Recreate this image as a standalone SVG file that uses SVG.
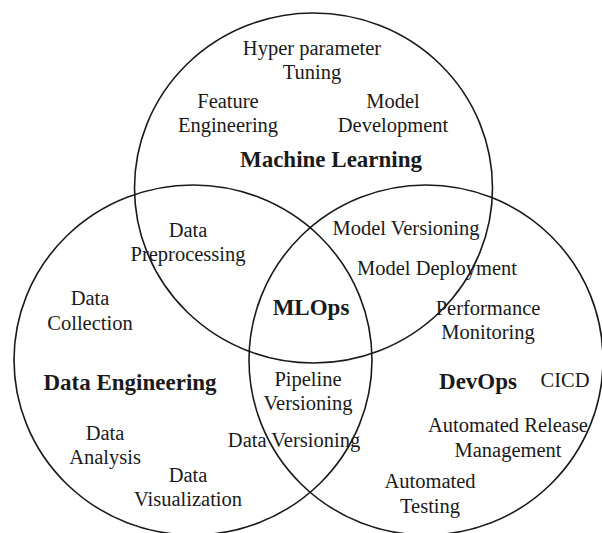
<svg xmlns="http://www.w3.org/2000/svg" width="602" height="533" viewBox="0 0 602 533">
<style>
.c{fill:none;stroke:#1a1a1a;stroke-width:1.6}
text{font-family:"Liberation Serif","Times New Roman",serif;fill:#1a1a1a;text-anchor:middle}
.t{font-size:20.5px}
.b{font-size:23px;font-weight:bold}
</style>
<rect width="602" height="533" fill="#fff"/>
<g id="connectors"></g>
<g id="ml"><ellipse class="c" cx="313.5" cy="188" rx="179" ry="175"/>
<text class="b" x="331" y="167">Machine Learning</text></g>
<g id="de"><ellipse class="c" cx="193" cy="360" rx="179" ry="175"/>
<text class="b" x="130" y="390">Data Engineering</text></g>
<g id="devops"><ellipse class="c" cx="426" cy="360" rx="177" ry="175"/>
<text class="b" x="478" y="389">DevOps</text></g>
<g id="mlops"><text class="b" x="311" y="315">MLOps</text></g>
<g id="hyper"><text class="t" x="312" y="55">Hyper parameter</text><text class="t" x="312" y="79">Tuning</text></g>
<g id="feature"><text class="t" x="228" y="108">Feature</text><text class="t" x="228" y="132">Engineering</text></g>
<g id="modeldev"><text class="t" x="393" y="108">Model</text><text class="t" x="393" y="132">Development</text></g>
<g id="preproc"><text class="t" x="188" y="237">Data</text><text class="t" x="188" y="261">Preprocessing</text></g>
<g id="collection"><text class="t" x="90" y="305">Data</text><text class="t" x="90" y="330">Collection</text></g>
<g id="analysis"><text class="t" x="105" y="440">Data</text><text class="t" x="105" y="464">Analysis</text></g>
<g id="visual"><text class="t" x="188" y="482">Data</text><text class="t" x="188" y="506">Visualization</text></g>
<g id="pipeline"><text class="t" x="308" y="386">Pipeline</text><text class="t" x="308" y="410">Versioning</text></g>
<g id="dataver"><text class="t" x="294" y="447">Data Versioning</text></g>
<g id="modelver"><text class="t" x="406" y="235">Model Versioning</text></g>
<g id="modeldep"><text class="t" x="437" y="275">Model Deployment</text></g>
<g id="perf"><text class="t" x="488" y="315">Performance</text><text class="t" x="488" y="339">Monitoring</text></g>
<g id="cicd"><text class="t" x="565" y="387">CICD</text></g>
<g id="release"><text class="t" x="508" y="432">Automated Release</text><text class="t" x="508" y="457">Management</text></g>
<g id="testing"><text class="t" x="430" y="488">Automated</text><text class="t" x="430" y="513">Testing</text></g>
</svg>
